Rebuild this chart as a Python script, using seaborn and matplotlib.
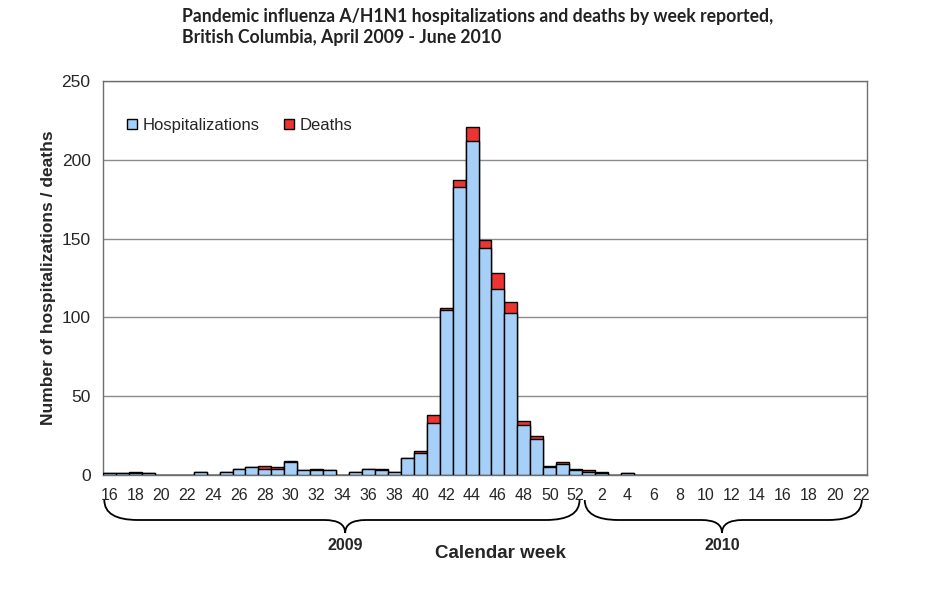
import numpy as np
import pandas as pd
import matplotlib.pyplot as plt
import seaborn as sns
from matplotlib.path import Path
from matplotlib.patches import PathPatch, Patch
from matplotlib.transforms import blended_transform_factory

sns.set_style("white")
plt.rcParams["font.family"] = ["Liberation Sans", "DejaVu Sans"]

# Dados: semanas de 2009 (16-52) e de 2010 (1-22)
semanas_2009 = list(range(16, 53))
semanas_2010 = list(range(1, 23))

hospitalizacoes = [
    1, 1, 1, 1, 0, 0, 0, 2, 0, 2, 4, 5, 4, 4, 8, 3, 3, 3, 0, 2, 4, 3, 2,
    11, 14, 33, 105, 183, 212, 144, 118, 103, 32, 23, 5, 7, 3,
    2, 1, 0, 1, 0, 0, 0, 0, 0, 0, 0, 0, 0, 0, 0, 0, 0, 0, 0, 0, 0, 0,
]
mortes = [
    0, 0, 1, 0, 0, 0, 0, 0, 0, 0, 0, 0, 2, 1, 1, 0, 1, 0, 0, 0, 0, 1, 0,
    0, 1, 5, 1, 4, 9, 5, 10, 7, 2, 2, 1, 1, 1,
    1, 1, 0, 0, 0, 0, 0, 0, 0, 0, 0, 0, 0, 0, 0, 0, 0, 0, 0, 0, 0, 0,
]

rotulos = [f"2009-{w}" for w in semanas_2009] + [f"2010-{w}" for w in semanas_2010]
semanas = semanas_2009 + semanas_2010
df = pd.DataFrame({"rotulo": rotulos, "semana": semanas,
                   "hosp": hospitalizacoes, "mortes": mortes})
df["total"] = df["hosp"] + df["mortes"]

azul = "#A6D0F8"
vermelho = "#EE3333"

fig = plt.figure(figsize=(9.33, 6.15), dpi=100)
ax = fig.add_axes([0.1104, 0.2276, 0.8189, 0.6407])

# Barras empilhadas: total (vermelho) por baixo, hospitalizações (azul) por cima
sns.barplot(data=df, x="rotulo", y="total", order=rotulos, color=vermelho,
            width=1.0, edgecolor="black", linewidth=1.0, saturation=1, ax=ax, zorder=3)
sns.barplot(data=df, x="rotulo", y="hosp", order=rotulos, color=azul,
            width=1.0, edgecolor="black", linewidth=1.0, saturation=1, ax=ax, zorder=3)

ax.set_xlim(-0.5, len(rotulos) - 0.5)
ax.set_ylim(0, 250)
ax.set_yticks(range(0, 251, 50))
ax.yaxis.grid(True, color="#8c8c8c", linewidth=1.0, zorder=0)
ax.set_axisbelow(True)
for s in ax.spines.values():
    s.set_color("#6e6e6e")
    s.set_linewidth(1.0)

# Rótulos do eixo x: semanas pares
pos = [i for i, w in enumerate(semanas) if w % 2 == 0]
ax.set_xticks(pos)
ax.set_xticklabels([str(semanas[i]) for i in pos], fontsize=11.5)
ax.tick_params(axis="x", length=0, pad=9)
ax.set_xticks(np.arange(-0.5, len(rotulos), 1.0), minor=True)
ax.tick_params(axis="x", which="minor", length=5, color="#6e6e6e", direction="out")
ax.tick_params(axis="y", length=5, color="#6e6e6e", direction="out", labelsize=12.5, pad=4)

ax.set_xlabel("")
ax.set_ylabel("Number of hospitalizations / deaths", fontsize=12.5,
              fontweight="bold", labelpad=4)

# Legenda
handles = [Patch(facecolor=azul, edgecolor="black", linewidth=1.0, label="Hospitalizations"),
           Patch(facecolor=vermelho, edgecolor="black", linewidth=1.0, label="Deaths")]
ax.legend(handles=handles, loc="upper left", bbox_to_anchor=(0.012, 0.945), ncol=2,
          frameon=False, fontsize=12, handlelength=0.6, handleheight=0.6,
          handletextpad=0.3, columnspacing=1.5)

# Chaves (anos) abaixo do eixo x
tr = blended_transform_factory(ax.transData, fig.transFigure)


def chave(x0, x1, xm, texto):
    yt, ym, yp = 1 - 500 / 615, 1 - 520 / 615, 1 - 533 / 615
    d = 2.6
    dm = 1.6
    verts = [(x0, yt), (x0, ym), (x0 + d, ym),
             (xm - dm, ym), (xm, ym), (xm, yp),
             (xm, ym), (xm + dm, ym),
             (x1 - d, ym), (x1, ym), (x1, yt)]
    codes = [Path.MOVETO, Path.CURVE3, Path.CURVE3,
             Path.LINETO, Path.CURVE3, Path.CURVE3,
             Path.CURVE3, Path.CURVE3,
             Path.LINETO, Path.CURVE3, Path.CURVE3]
    p = PathPatch(Path(verts, codes), facecolor="none", edgecolor="black",
                  linewidth=1.3, transform=tr, clip_on=False)
    fig.add_artist(p)
    fig.text(xm, 1 - 546 / 615, texto, transform=tr, ha="center", va="center",
             fontsize=11.5, fontweight="bold")


chave(-0.4, 36.3, 18.2, "2009")
chave(36.7, 58.1, 47.3, "2010")

fig.text(500 / 933, 1 - 554 / 615, "Calendar week", ha="center", va="center",
         fontsize=13.5, fontweight="bold")

# Título
fig.text(182 / 933, 1 - 27 / 615,
         "Pandemic influenza A/H1N1 hospitalizations and deaths by week reported,\n"
         "British Columbia, April 2009 - June 2010",
         ha="left", va="center", fontsize=12.7, fontweight="bold",
         family=["Lato", "DejaVu Sans"], color="#222222", linespacing=1.25)

fig.savefig("out.png", dpi=100)
